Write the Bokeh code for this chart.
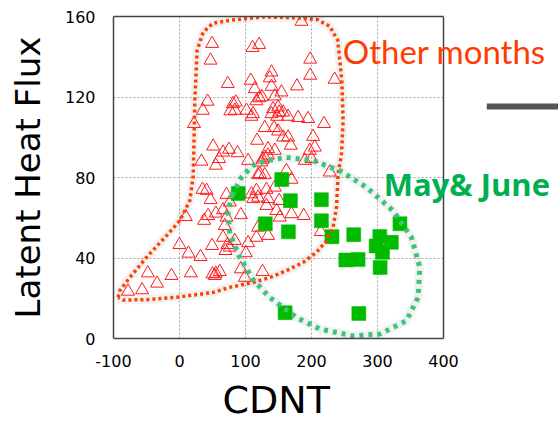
from bokeh.plotting import figure
from bokeh.models import Label, Arrow, FixedTicker, Range1d, BoxAnnotation, Title, Span, LinearAxis
from bokeh.embed import file_html
from bokeh.resources import INLINE

# ---- data ----
other_x = [49.4, 47, 73.2, 42.4, 35.3, 22, 77, 81, 51, 66, 75, 60, 33.3, 55,
           110.6, 120.6, 198, 108, 139.4, 136.8, 139.4, 114, 178, 198, 235, 154.5, 144.4, 85.3,
           116.6, 125, 121, 84, 101.5, 111.5, 109, 141.8, 149.4, 151, 157, 139.4, 164.5, 179.7,
           194.8, 148, 219, 129.2, 143.3, 149.4, 157, 164.5, 202.4, 117.6, 168.6, 205, 134.2,
           144.4, 87.9, 197.4, 129.2, 104, 189.8, 200, 126, 134, 124.2, 121.7,
           34.8, 41, 47, 71.2, 9.5, 37.3, 43.3, 55, 66, 68.6, 71.2, 66, 72.7, 0, 49.4, 13.6,
           31.8, 69.7, -48, -12.1, 17.1, 50, 55, 61, 53.5, -34, -56.7, -78,
           119, 129.2, 162, 169.7, 227.7, 116.6, 131.8, 144.4, 109, 119, 111.5, 134.2, 151,
           131.8, 147, 169.7, 188.3, 152, 92.9, 76.2, 119, 134.2, 116.6, 104, 83.8, 76.2,
           100.5, 214, 92.9, 125.8, 99, 184.8]
other_y = [146.5, 138.2, 126.6, 117.8, 113.3, 106.7, 113, 116.6, 95.5, 92.5, 93.9, 89.3, 88, 86,
           144.5, 146, 138.7, 128.2, 132.3, 129.4, 125.2, 124, 125.4, 130.7, 128.7, 122.4, 120.4, 117.4,
           118, 120, 119.5, 113.3, 113.3, 111.6, 110.3, 114.1, 114.9, 112.4, 112.4, 111.6, 110.3, 109.7,
           109.2, 110.3, 106.7, 104.7, 104.7, 103, 100, 100, 100.3, 98.4, 95.9, 95, 94.2,
           93.4, 92.2, 93.4, 90, 88.4, 88.4, 89.3, 89, 91, 87.6, 81.8,
           74, 73.5, 68.9, 71.5, 60.5, 58.6, 61, 62.2, 63.9, 56, 60.2, 50.2, 46.6, 46.6, 46.1, 42.3,
           40.6, 43.6, 32.5, 31.2, 32.5, 32, 32.3, 33.2, 31.2, 27.4, 24.1, 23.4,
           81.3, 81.3, 83.4, 79, 82.6, 73.5, 74, 75.1, 71.8, 70.1, 69.4, 69.4, 68.5,
           66, 63.5, 61.9, 61, 60.2, 61.4, 67.7, 55.2, 51.1, 50.2, 47.5, 48.6, 45.3,
           42.5, 53, 34.5, 33.2, 30.3, 157.5]

mayjune_x = [89, 155, 168, 215, 130, 165, 215, 231, 264, 303.5, 321, 307.5, 304, 298,
             334, 252, 270.6, 160, 271.7]
mayjune_y = [72, 79, 68.5, 69, 57, 53, 58.5, 50.6, 51.6, 50.7, 47.8, 42.8, 35.3, 46,
             57, 39, 39.2, 12.8, 12.4]

x_ticks = [-100, 0, 100, 200, 300, 400]
y_ticks = [0, 40, 80, 120, 160]
x_min, x_max = -100, 400
y_min, y_max = 0, 160

# hand-drawn outlines (annotation shapes)
other_outline_x = [-93, -90.5, -75.3, -50, -19.7, 0.5, 15.6, 20.6, 21.7, 23.2, 26.7, 35.8, 50.9,
                   76.2, 126.7, 152, 182, 209.5, 227.7, 239.8, 245.9, 247.9, 245.5, 240.3, 237.9,
                   232.7, 222.7, 207.6, 187.3, 162.1, 136.8, 111.5, 76.2, 50.9, 0.5, -50, -85.5, -93]
other_outline_y = [20.4, 23.7, 30.3, 40.3, 51.1, 58.6, 68.5, 80.1, 93.4, 118.3, 143.1, 152.2, 156.7,
                   158.1, 159.8, 159.6, 159.2, 158.4, 155.1, 148.1, 128.2, 108.3, 91.9, 81.8, 65.2,
                   55.2, 48.6, 42.8, 37.8, 33.7, 30.3, 27.9, 25.4, 22.9, 20.7, 19.3, 19.1, 20.4]
mj_outline_x = [79.2, 93.9, 111.1, 131.8, 162.1, 202.4, 242.9, 283.3, 323.6, 351.5, 364.1, 361.5,
                343.9, 303.5, 263, 212.6, 177.3, 136.8, 111.5, 91.4, 76.2, 73.6, 79.2]
mj_outline_y = [71.0, 80.1, 85.9, 88.4, 90.0, 88.4, 83.4, 75.1, 63.5, 50.2, 35.3, 20.4,
                8.8, 2.2, 1.3, 4.7, 10.4, 20.4, 29.2, 40.3, 52.1, 62.7, 71.0]

# frame extends to the right edge of the canvas so the side texts are not clipped
x_view_max = x_min + 445 / 0.66

p = figure(width=558, height=428, output_backend="svg", toolbar_location=None,
           x_range=Range1d(x_min, x_view_max), y_range=Range1d(y_min, y_max),
           min_border_left=113, min_border_right=0, min_border_top=16, min_border_bottom=90)
p.background_fill_color = "white"
p.border_fill_color = "white"
p.outline_line_color = None

box_color = "#444444"
for ax in (p.xaxis[0], p.yaxis[0]):
    ax.major_tick_line_color = None
    ax.minor_tick_line_color = None
    ax.axis_line_color = box_color
    ax.axis_line_width = 1.5
    ax.major_label_text_font = "DejaVu Sans"
    ax.major_label_text_font_size = "16px"
    ax.major_label_text_color = "#000000"
    ax.axis_label_text_font = "DejaVu Sans"
    ax.axis_label_text_font_style = "normal"
    ax.axis_label_text_color = "#000000"

p.xaxis[0].bounds = (x_min, x_max)
p.yaxis[0].bounds = (y_min, y_max)
p.xaxis[0].ticker = FixedTicker(ticks=x_ticks)
p.xaxis[0].major_label_overrides = {-100: "-100"}
p.yaxis[0].ticker = FixedTicker(ticks=y_ticks)
p.xaxis[0].major_label_standoff = 10
p.yaxis[0].major_label_standoff = 12
p.yaxis[0].axis_label = "Latent Heat Flux"
p.yaxis[0].axis_label_text_font_size = "34px"
p.yaxis[0].axis_label_standoff = 14

# top edge of the plot box
p.add_layout(LinearAxis(bounds=(x_min, x_max), ticker=FixedTicker(ticks=[]),
                        major_tick_line_color=None, minor_tick_line_color=None,
                        axis_line_color=box_color, axis_line_width=1.5), "above")

p.add_layout(Title(text="CDNT", align="left", offset=109, text_font="DejaVu Sans",
                   text_font_size="38px", text_font_style="normal", text_color="#000000",
                   standoff=12), "below")

p.grid.grid_line_color = "#aaaaaa"
p.grid.grid_line_dash = "2 2"
p.grid.grid_line_width = 1

# white area right of the plot box (hides grid lines there)
p.add_layout(BoxAnnotation(left=x_max, right=x_view_max, bottom=y_min, top=y_max,
                           fill_color="white", fill_alpha=1, line_color=None, level="underlay"))

# shadows of outlines
p.line(other_outline_x, other_outline_y, line_color="#000000", line_alpha=0.05, line_width=9)
p.line(mj_outline_x, mj_outline_y, line_color="#000000", line_alpha=0.05, line_width=9)

p.scatter(other_x, other_y, marker="triangle", size=13, fill_color=None,
          line_color="#ff1a1a", line_width=1)
p.scatter(mayjune_x, mayjune_y, marker="square", size=14, fill_color="#00bb00",
          line_color="#00bb00", line_width=0.5)

p.line(other_outline_x, other_outline_y, line_color="#ff4000", line_width=3.5, line_dash="3 3")
p.line(mj_outline_x, mj_outline_y, line_color="#3cc47a", line_width=5, line_dash="4 5")

# right edge of the plot box
p.add_layout(Span(location=x_max, dimension="height", line_color=box_color, line_width=1.5))

p.add_layout(Label(x=247.4, y=143.1, text="Other months", text_color="#ff3c00",
                   text_font="Lato", text_font_size="33px", text_baseline="middle",
                   text_align="left"))
p.add_layout(Label(x=309.5, y=77, text="May& June", text_color="#00b050",
                   text_font="Open Sans", text_font_style="bold", text_font_size="31px",
                   text_baseline="middle", text_align="left"))
p.add_layout(Arrow(end=None, x_start=465.6, y_start=115.3, x_end=x_view_max, y_end=115.3,
                   line_color="#555555", line_width=6))

open("out.html", "w").write(file_html(p, INLINE))
